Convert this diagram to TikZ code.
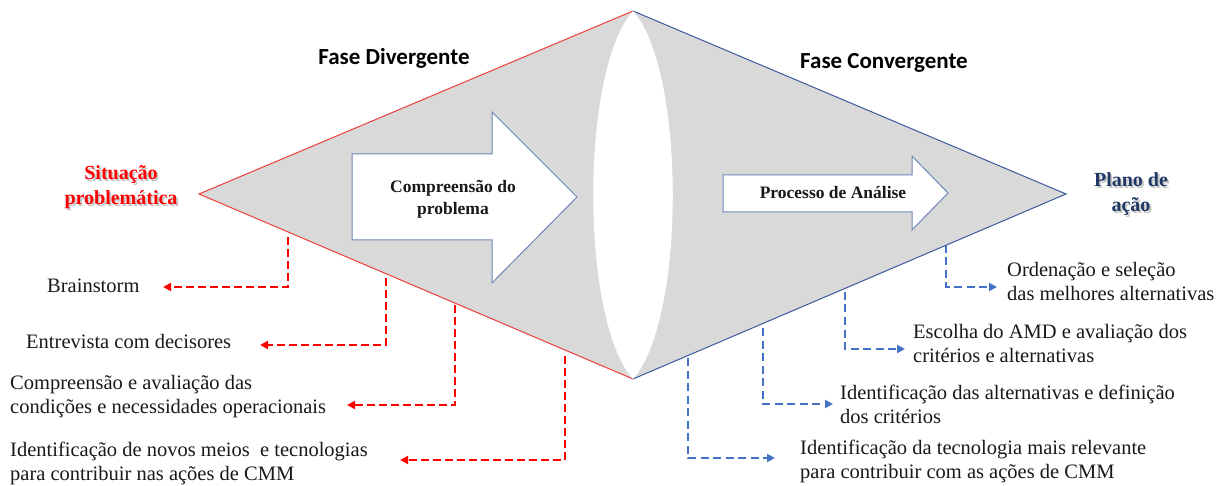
\documentclass[tikz,border=0pt]{standalone}
\usepackage{fontspec}
\setmainfont{Liberation Serif}
\newfontfamily\calib{Carlito}
\usetikzlibrary{arrows.meta}
\definecolor{shapegray}{RGB}{217,217,217}
\definecolor{redline}{RGB}{240,60,60}
\definecolor{blueline}{RGB}{60,90,160}
\definecolor{arrowedge}{RGB}{110,135,185}
\definecolor{dashred}{RGB}{255,0,0}
\definecolor{dashblue}{RGB}{68,114,196}
\definecolor{navy}{RGB}{31,56,100}
\definecolor{txt}{RGB}{25,25,25}
\begin{document}
\begin{tikzpicture}[x=1pt,y=-1pt,
  lbl/.style={font=\fontsize{20.5}{24}\selectfont, align=left, anchor=west, inner sep=0pt, text=txt},
  boldlbl/.style={font=\fontsize{17.5}{22}\selectfont\bfseries, align=center, inner sep=0pt, text=txt},
  endlbl/.style={font=\fontsize{20}{25}\selectfont\bfseries, align=center, inner sep=0pt},
  title/.style={font=\calib\fontsize{23}{26}\selectfont\bfseries, inner sep=0pt, text=black},
  reddash/.style={draw=dashred, line width=2.8pt, dash pattern=on 8pt off 4pt, -{Triangle[length=8pt,width=8pt]}},
  bluedash/.style={draw=dashblue, line width=2.4pt, dash pattern=on 8pt off 4.5pt, -{Triangle[length=8pt,width=8pt]}},
  blockarrow/.style={fill=white, draw=arrowedge, line width=1pt, line join=miter}
]
\useasboundingbox (0,0) rectangle (1226,486);

% main diamond
\coordinate (L) at (199,194);
\coordinate (T) at (633,11);
\coordinate (R) at (1066,194);
\coordinate (B) at (633,379);
\fill[shapegray] (L) -- (T) -- (R) -- (B) -- cycle;
\draw[redline, line width=1pt] (T) -- (L) -- (B);
\draw[blueline, line width=1pt] (T) -- (R) -- (B);
% white lens
\fill[white] (T) .. controls (580,70) and (580,320) .. (B)
             .. controls (686,320) and (686,70) .. (T) -- cycle;

% block arrows
\draw[blockarrow] (352,154) -- (492,154) -- (492,112) -- (577,197) -- (492,283) -- (492,240) -- (352,240) -- cycle;
\node[boldlbl] (a1) at (453,199) {Compreensão do\\problema};
\draw[blockarrow] (723,175) -- (912,175) -- (912,156) -- (948,193) -- (912,230) -- (912,212) -- (723,212) -- cycle;
\node[boldlbl] (a2) at (833,193) {Processo de Análise};

% titles
\node[title] (t1) at (394,58) {Fase Divergente};
\node[title] (t2) at (884,63) {Fase Convergente};

% end labels with shadow
\node[endlbl, text=black!40, opacity=0.55] at (122.8,188.8) {Situação\\problemática};
\node[endlbl, text=red] (sit) at (121,187) {Situação\\problemática};
\node[endlbl, text=black!40, opacity=0.55] at (1132.8,195.8) {Plano de\\ação};
\node[endlbl, text=navy] (plano) at (1131,194) {Plano de\\ação};

% left labels
\node[lbl] (l1) at (47,286) {Brainstorm};
\node[lbl] (l2) at (26,341) {Entrevista com decisores};
\node[lbl] (l3) at (10,397) {Compreensão e avaliação das\\condições e necessidades operacionais};
\node[lbl] (l4) at (10,463) {Identificação de novos meios\ \ e tecnologias\\para contribuir nas ações de CMM};

\coordinate (s1) at (288,237); \coordinate (e1) at (163,287);
\coordinate (s2) at (386,278); \coordinate (e2) at (260,345);
\coordinate (s3) at (455,305); \coordinate (e3) at (347,405);
\coordinate (s4) at (565,356); \coordinate (e4) at (400,460);
\draw[reddash] (s1) |- (e1);
\draw[reddash] (s2) |- (e2);
\draw[reddash] (s3) |- (e3);
\draw[reddash] (s4) |- (e4);

% right labels
\node[lbl] (r1) at (1007,281) {Ordenação e seleção\\das melhores alternativas};
\node[lbl] (r2) at (913,343) {Escolha do AMD e avaliação dos\\critérios e alternativas};
\node[lbl] (r3) at (840,404) {Identificação das alternativas e definição\\dos critérios};
\node[lbl] (r4) at (800,461) {Identificação da tecnologia mais relevante\\para contribuir com as ações de CMM};

\coordinate (u1) at (946,245); \coordinate (f1) at (997,287);
\coordinate (u2) at (845,292); \coordinate (f2) at (905,349);
\coordinate (u3) at (763,328); \coordinate (f3) at (833,404);
\coordinate (u4) at (688,358); \coordinate (f4) at (775,458);
\draw[bluedash] (u1) |- (f1);
\draw[bluedash] (u2) |- (f2);
\draw[bluedash] (u3) |- (f3);
\draw[bluedash] (u4) |- (f4);
\end{tikzpicture}
\end{document}
